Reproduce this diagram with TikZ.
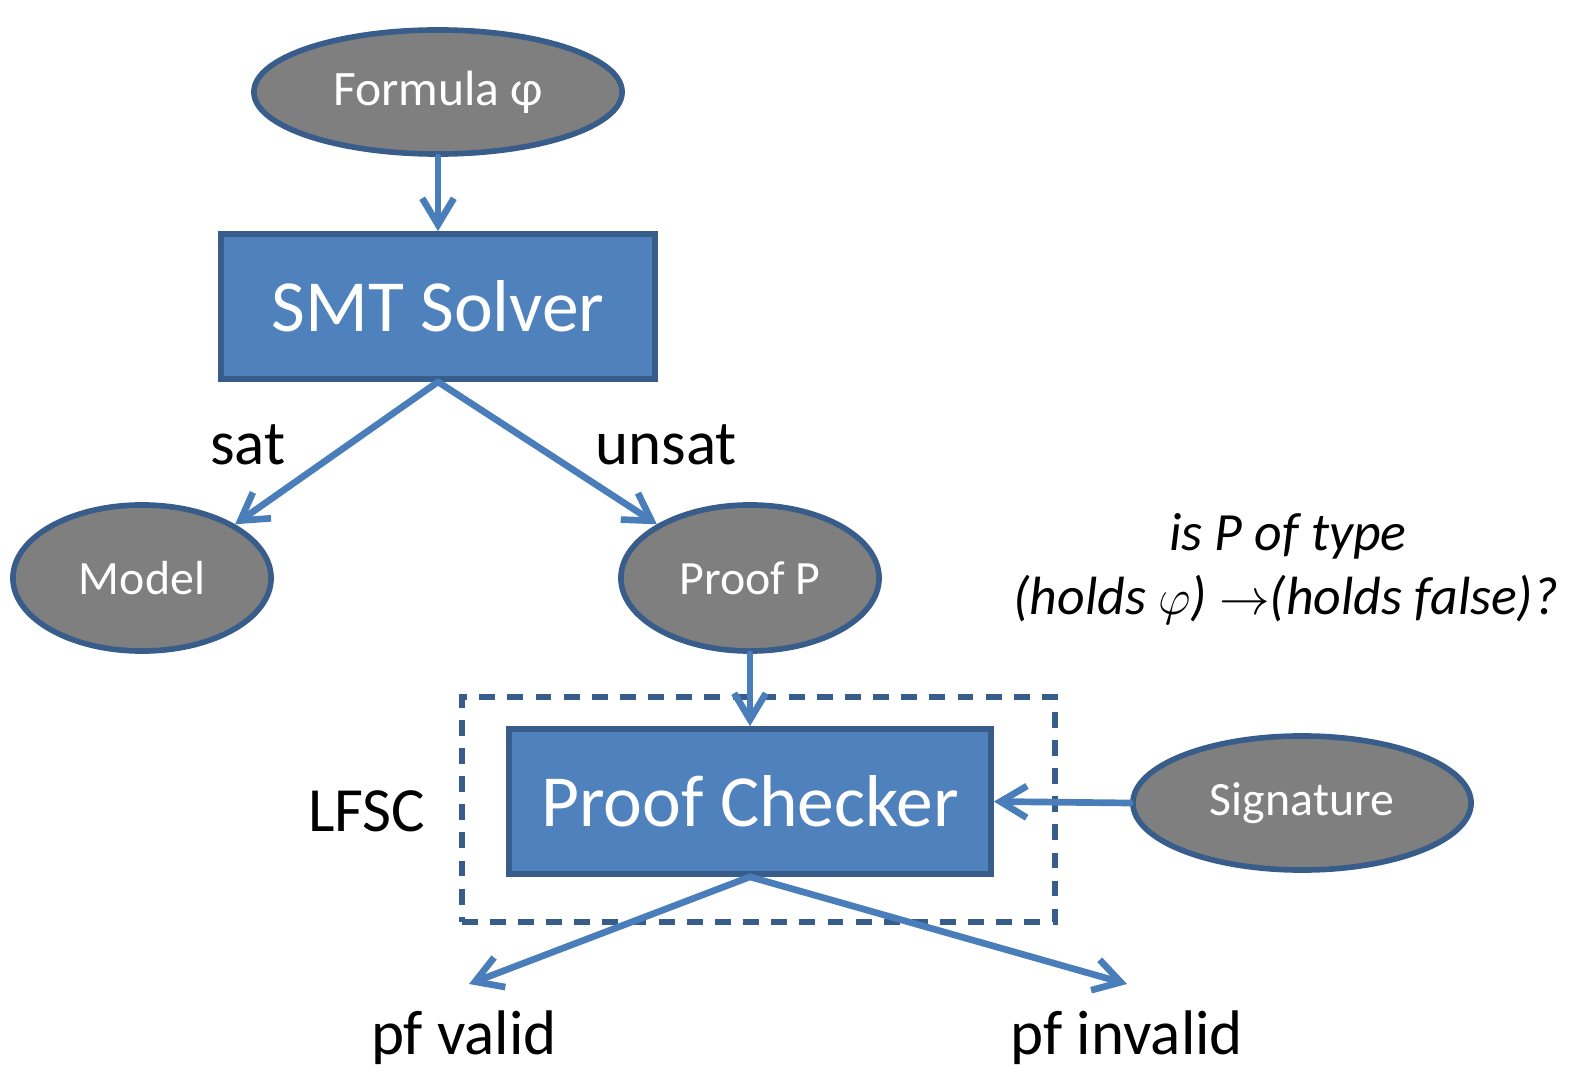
\documentclass[tikz,border=0pt]{standalone}
\usepackage{fontspec}
\setmainfont{Carlito}
\usetikzlibrary{arrows.meta,shapes.geometric}
\definecolor{boxfill}{HTML}{4F81BD}
\definecolor{boxline}{HTML}{385D8A}
\definecolor{ovalfill}{HTML}{7F7F7F}
\definecolor{arrowcol}{HTML}{4A7EBB}
\tikzset{
  procbox/.style={rectangle, draw=boxline, fill=boxfill, line width=1.6pt,
    text=white, font=\fontsize{20.9}{24}\selectfont, inner sep=0pt},
  oval/.style={ellipse, draw=boxline, fill=ovalfill, line width=1.6pt,
    text=white, font=\fontsize{13.6}{16}\selectfont, inner sep=0pt},
  flow/.style={draw=arrowcol, line width=1.9pt, line cap=round,
    -{Straight Barb[length=7.5pt,width=9pt,line width=1.9pt]}},
  lbl/.style={font=\fontsize{17.9}{21}\selectfont, text=black, inner sep=0pt},
  note/.style={font=\itshape\fontsize{15.3}{18}\selectfont, text=black, inner sep=0pt},
}
\begin{document}
\begin{tikzpicture}[x=0.01cm,y=-0.01cm]
\useasboundingbox (0,0) rectangle (1575,1070);

% nodes
\node[oval, minimum width=3.68cm, minimum height=1.24cm, font=\fontsize{14.1}{16}\selectfont] (F) at (438,92) {Formula φ};
\node[procbox, minimum width=4.34cm, minimum height=1.45cm] (S) at (438,306.5) {SMT Solver};
\node[oval, minimum width=2.58cm, minimum height=1.46cm] (M) at (142,578) {Model};
\node[oval, minimum width=2.58cm, minimum height=1.46cm] (P) at (750,578) {Proof P};
\node[procbox, minimum width=4.82cm, minimum height=1.45cm] (C) at (750,801.5) {Proof Checker};
\node[oval, minimum width=3.38cm, minimum height=1.34cm] (G) at (1302,803) {Signature};

% LFSC frame
\node[draw=boxline, line width=1.6pt, dash pattern=on 4.5pt off 3.5pt,
  minimum width=5.93cm, minimum height=2.25cm, inner sep=0pt] (L) at (758.5,809.5) {};

% labels
\node[lbl] (lsat) at (248,445) {sat};
\node[lbl] (lunsat) at (666,445) {unsat};
\node[lbl] (llfsc) at (367,811) {LFSC};
\coordinate (v) at (469,984);
\coordinate (iv) at (1127,984);
\node[lbl] (lv) at (464,1038) {pf valid};
\node[lbl] (liv) at (1127,1038) {pf invalid};
\node[note] (q1) at (1288,536) {is P of type};
\node[note] (q2) at (1286,600) {(holds $\varphi$) $\rightarrow$(holds false)?};

% connectors
\draw[flow] (F.south) -- (S.north);
\draw[flow] (S.south) -- (M.30);
\draw[flow] (S.south) -- (P.150);
\draw[flow] (P.south) -- (C.north);
\draw[flow] (G.west) -- (C.east);
\draw[flow] (C.south) -- (v);
\draw[flow] (C.south) -- (iv);
\end{tikzpicture}
\end{document}
